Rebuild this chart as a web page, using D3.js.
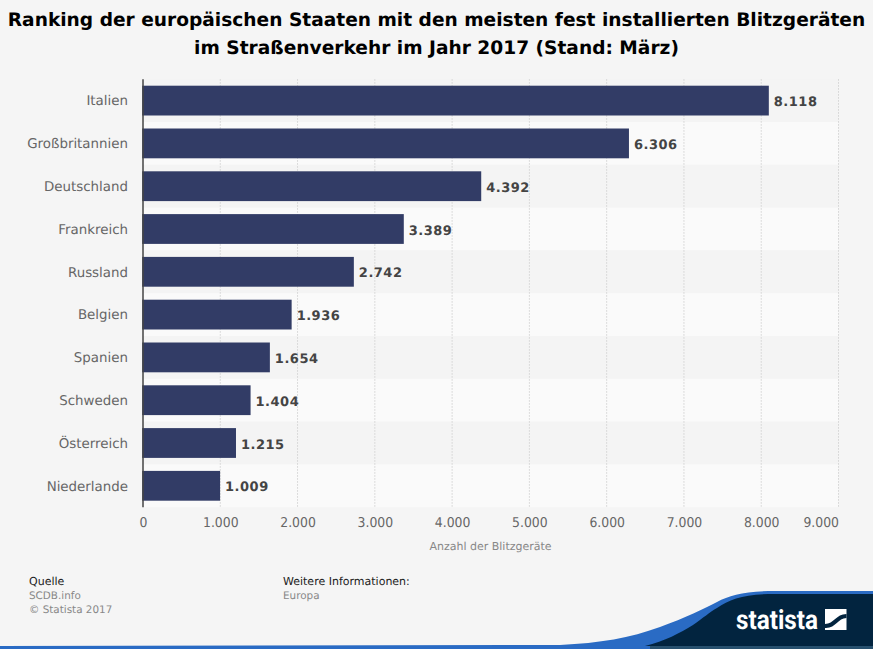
<!DOCTYPE html>
<html>
<head>
<meta charset="utf-8">
<script src="https://cdn.jsdelivr.net/npm/d3@7"></script>
<style>
  html, body { margin: 0; padding: 0; background: #f5f5f5; }
  svg { display: block; font-family: "DejaVu Sans", sans-serif; text-rendering: geometricPrecision; }
</style>
</head>
<body>
<div id="chart"></div>
<script>
const countries = ["Italien", "Großbritannien", "Deutschland", "Frankreich", "Russland",
  "Belgien", "Spanien", "Schweden", "Österreich", "Niederlande"];
const counts = [8118, 6306, 4392, 3389, 2742, 1936, 1654, 1404, 1215, 1009];
const xTicks = [0, 1000, 2000, 3000, 4000, 5000, 6000, 7000, 8000, 9000];
const titleLines = ["Ranking der europäischen Staaten mit den meisten fest installierten Blitzgeräten",
  "im Straßenverkehr im Jahr 2017 (Stand: März)"];

const width = 873, height = 649;
const plotLeft = 143, plotRight = 838.5, plotTop = 79.2, plotBottom = 507.2;

const svg = d3.select("#chart").append("svg")
  .attr("width", width)
  .attr("height", height);

svg.append("rect")
  .attr("width", width)
  .attr("height", height)
  .attr("fill", "#f5f5f5");

// Title
svg.append("g").selectAll("text")
  .data(titleLines).enter()
  .append("text")
  .attr("x", 436.5)
  .attr("y", (d, i) => 26 + i * 28)
  .attr("text-anchor", "middle")
  .attr("font-size", 18.6)
  .attr("font-weight", "bold")
  .attr("fill", "#000")
  .text(d => d);

// Scales - the bars sit about a pixel left of the gridlines in the original
const x = d3.scaleLinear().domain([0, 9000]).range([plotLeft, plotRight]);
const barX = d3.scaleLinear().domain([0, 9000]).range([plotLeft - 0.8, plotRight - 1.6]);
const y = d3.scaleBand().domain(countries).range([plotTop, plotBottom]).paddingInner(0).paddingOuter(0);

// Alternating row stripes
svg.append("g").selectAll("rect")
  .data(countries).enter()
  .append("rect")
  .attr("x", plotLeft)
  .attr("y", d => y(d))
  .attr("width", plotRight - plotLeft)
  .attr("height", y.bandwidth())
  .attr("fill", (d, i) => i % 2 === 0 ? "#f4f4f4" : "#fafafa");

// Gridlines
svg.append("g").selectAll("line")
  .data(xTicks.slice(1)).enter()
  .append("line")
  .attr("x1", d => x(d))
  .attr("x2", d => x(d))
  .attr("y1", plotTop)
  .attr("y2", plotBottom)
  .attr("stroke", "#d2d2d2")
  .attr("stroke-width", 1)
  .attr("stroke-dasharray", "1.5,1.5");

// Bars
const barHeight = 29.8;
svg.append("g").selectAll("rect")
  .data(counts).enter()
  .append("rect")
  .attr("x", barX(0))
  .attr("y", (d, i) => y(countries[i]) + (y.bandwidth() - barHeight) / 2)
  .attr("width", d => barX(d) - barX(0))
  .attr("height", barHeight)
  .attr("fill", "#323c66");

// Value labels
const deFormat = d3.formatLocale({ decimal: ",", thousands: ".", grouping: [3], currency: ["", ""] }).format(",d");
svg.append("g").selectAll("text")
  .data(counts).enter()
  .append("text")
  .attr("x", d => barX(d) + 5)
  .attr("y", (d, i) => y(countries[i]) + y.bandwidth() / 2 + 5.6)
  .attr("font-size", 13)
  .attr("font-weight", "bold")
  .attr("letter-spacing", 0.5)
  .attr("fill", "#444")
  .text(d => deFormat(d));

// Category axis
const yAxis = svg.append("g")
  .attr("transform", "translate(" + plotLeft + ",0.6)")
  .call(d3.axisLeft(y).tickSize(0).tickPadding(15));
yAxis.select(".domain").remove();
yAxis.selectAll("text")
  .attr("font-size", 13.4)
  .attr("font-family", "DejaVu Sans")
  .attr("fill", "#666");

svg.append("line")
  .attr("x1", plotLeft)
  .attr("x2", plotLeft)
  .attr("y1", plotTop)
  .attr("y2", plotBottom)
  .attr("stroke", "#444")
  .attr("stroke-width", 1.5);

// Value axis
const xAxis = svg.append("g")
  .attr("transform", "translate(0," + plotBottom + ")")
  .call(d3.axisBottom(x).tickValues(xTicks).tickSize(0).tickPadding(10).tickFormat(deFormat));
xAxis.select(".domain").remove();
xAxis.selectAll("text")
  .attr("font-size", 13.5)
  .attr("font-family", "DejaVu Sans")
  .attr("fill", "#666")
  .attr("lengthAdjust", "spacingAndGlyphs")
  .attr("textLength", function () { return this.getComputedTextLength() * 0.92; });
// last label is pulled in so it ends at the last gridline
xAxis.selectAll("text")
  .filter(d => d === 9000)
  .attr("text-anchor", "end");

svg.append("text")
  .attr("x", 490.5)
  .attr("y", 550)
  .attr("text-anchor", "middle")
  .attr("font-size", 11)
  .attr("fill", "#888")
  .text("Anzahl der Blitzgeräte");

// Footer
function footerText(xPos, yPos, str, color, size) {
  svg.append("text")
    .attr("x", xPos)
    .attr("y", yPos)
    .attr("font-size", size)
    .attr("fill", color)
    .text(str);
}
footerText(29, 585, "Quelle", "#222", 11);
footerText(29, 599, "SCDB.info", "#888", 10.4);
footerText(29, 613, "© Statista 2017", "#888", 10.4);
footerText(283, 585, "Weitere Informationen:", "#222", 11);
footerText(283, 599, "Europa", "#888", 10.4);

// Logo band
svg.append("path")
  .attr("d", "M0,646 L560,645 C600,643 630,638 660,627 C685,618 705,608 717,602 C730,595 745,591 775,591 L873,591 L873,649 L0,649 Z")
  .attr("fill", "#2a6bc4");
svg.append("path")
  .attr("d", "M645,646 C665,641 680,633 693,625 C703,618 710,612 717,608 C730,599 745,594 775,594 L873,594 L873,646 Z")
  .attr("fill", "#02243f");
svg.append("rect")
  .attr("x", 650)
  .attr("y", 646)
  .attr("width", 223)
  .attr("height", 3)
  .attr("fill", "#27506e");

svg.append("text")
  .attr("x", 736)
  .attr("y", 629)
  .attr("font-family", "Roboto, sans-serif")
  .attr("font-size", 27)
  .attr("font-weight", "bold")
  .attr("fill", "#fff")
  .attr("textLength", 82)
  .attr("lengthAdjust", "spacingAndGlyphs")
  .text("statista");

svg.append("rect")
  .attr("x", 825)
  .attr("y", 609)
  .attr("width", 21.5)
  .attr("height", 21)
  .attr("fill", "#fff");
svg.append("path")
  .attr("d", "M825,624 C834,624 836,614 846.5,614 L846.5,618 C838,618 836,628 826,628 L825,628 Z")
  .attr("fill", "#02243f");
</script>
</body>
</html>
